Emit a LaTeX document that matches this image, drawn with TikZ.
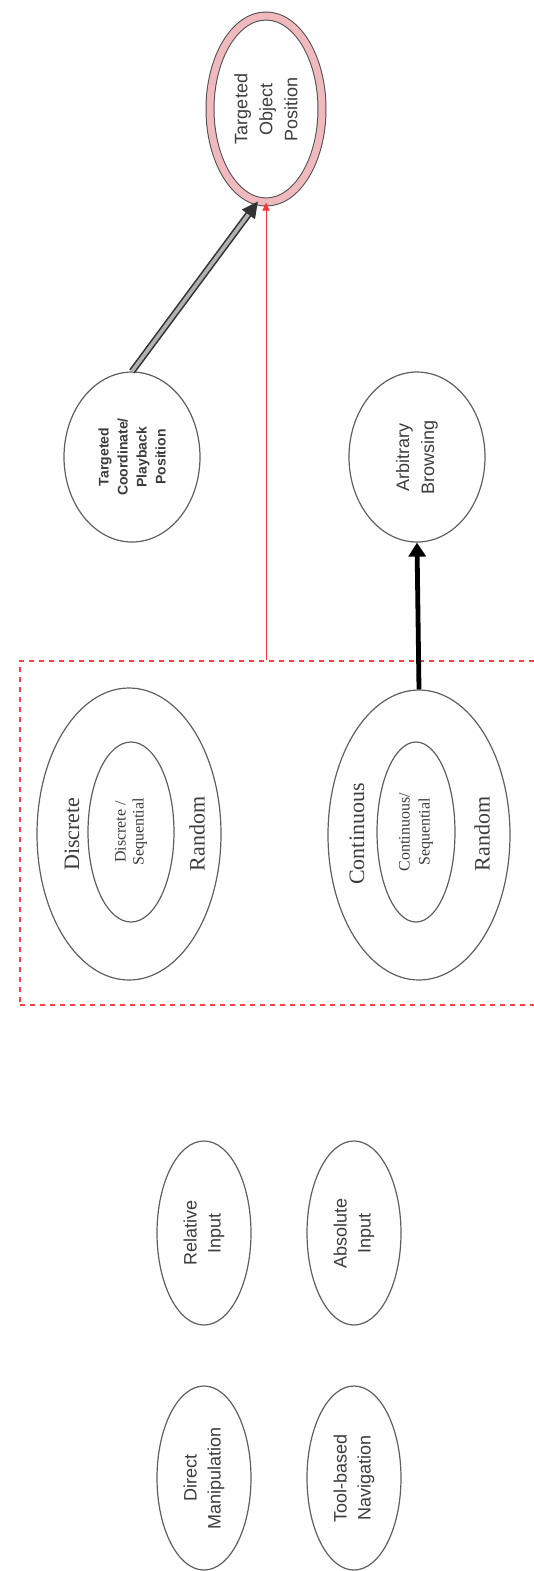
\documentclass[tikz,border=0pt]{standalone}
\usepackage{fontspec}
\setmainfont{Liberation Serif}
\setsansfont{Liberation Sans}
\usepackage{xcolor}
\usepackage{tikz}
\usetikzlibrary{arrows.meta,shapes.geometric}

\definecolor{edgegray}{RGB}{95,95,95}
\definecolor{textgray}{RGB}{60,60,60}
\definecolor{ringpink}{RGB}{240,185,190}

\tikzset{
  oval/.style={ellipse, draw=edgegray, line width=0.6pt, inner sep=0pt,
    rotate=90, align=center, text=textgray},
  sanslabel/.style={font=\sffamily\fontsize{9}{12}\selectfont},
  seriflabel/.style={font=\fontsize{11}{13}\selectfont, rotate=90, text=textgray, inner sep=0pt},
}

\begin{document}
\begin{tikzpicture}[x=0.5pt,y=-0.5pt]
\useasboundingbox (0,0) rectangle (534,1571);

% grouped modes, box runs off the right edge
\node[draw=red!75, dash pattern=on 2.5pt off 2.5pt, line width=0.6pt,
  minimum width=270pt, minimum height=172pt, inner sep=0pt] (grp) at (290,833) {};

% goal and intermediate states
\node[oval, font=\sffamily\fontsize{9}{12.5}\selectfont, draw=black!70,
  double=ringpink, double distance=3.5pt, line width=0.5pt,
  minimum width=93pt, minimum height=56pt] (tgt) at (266,109)
  {Targeted\\Object\\Position};
\node[oval, font=\sffamily\bfseries\fontsize{7}{9.5}\selectfont,
  minimum width=85pt, minimum height=68pt] (tcp) at (132,457)
  {Targeted\\Coordinate/\\Playback\\Position};
\node[oval, font=\sffamily\fontsize{9}{12.5}\selectfont,
  minimum width=85pt, minimum height=68pt] (arb) at (417,457)
  {Arbitrary\\Browsing};

% discrete and continuous modes
\node[oval, minimum width=146pt, minimum height=92pt] (disc) at (129,834) {};
\node[oval, font=\fontsize{8}{9}\selectfont, minimum width=90pt, minimum height=43pt]
  (discseq) at (131,832) {Discrete /\\Sequential};
\node[seriflabel] (disclbl) at (72,834) {Discrete};
\node[seriflabel] (discrnd) at (197,834) {Random};

\node[oval, minimum width=145pt, minimum height=91pt] (cont) at (419,835) {};
\node[oval, font=\fontsize{8}{10}\selectfont, minimum width=90pt, minimum height=39pt]
  (contseq) at (416,832) {Continuous/\\Sequential};
\node[seriflabel] (contlbl) at (357,834) {Continuous};
\node[seriflabel] (contrnd) at (482,834) {Random};

% input types
\foreach \name/\x/\y/\txt in {rel/204/1233/{Relative\\Input},
    abs/354/1233/{Absolute\\Input},
    dir/204/1478/{Direct\\Manipulation},
    tool/354/1478/{Tool-based\\Navigation}} {
  \node[oval, sanslabel, minimum width=92pt, minimum height=47pt] (\name) at (\x,\y) {\txt};
}

% connectors
\draw[red!80, line width=0.5pt, -{Triangle[length=4pt,width=3.5pt]}]
  (grp.north -| tgt) -- (tgt.west);
\draw[black, line width=2.4pt, -{Triangle[length=7pt,width=8.5pt]}]
  (cont.east) -- (arb.west);
\draw[black!80, line width=0.8pt, double=gray!60, double distance=1.8pt,
  -{Triangle[length=8pt,width=8pt]}] (tcp.east) -- (tgt.175);
\end{tikzpicture}
\end{document}
